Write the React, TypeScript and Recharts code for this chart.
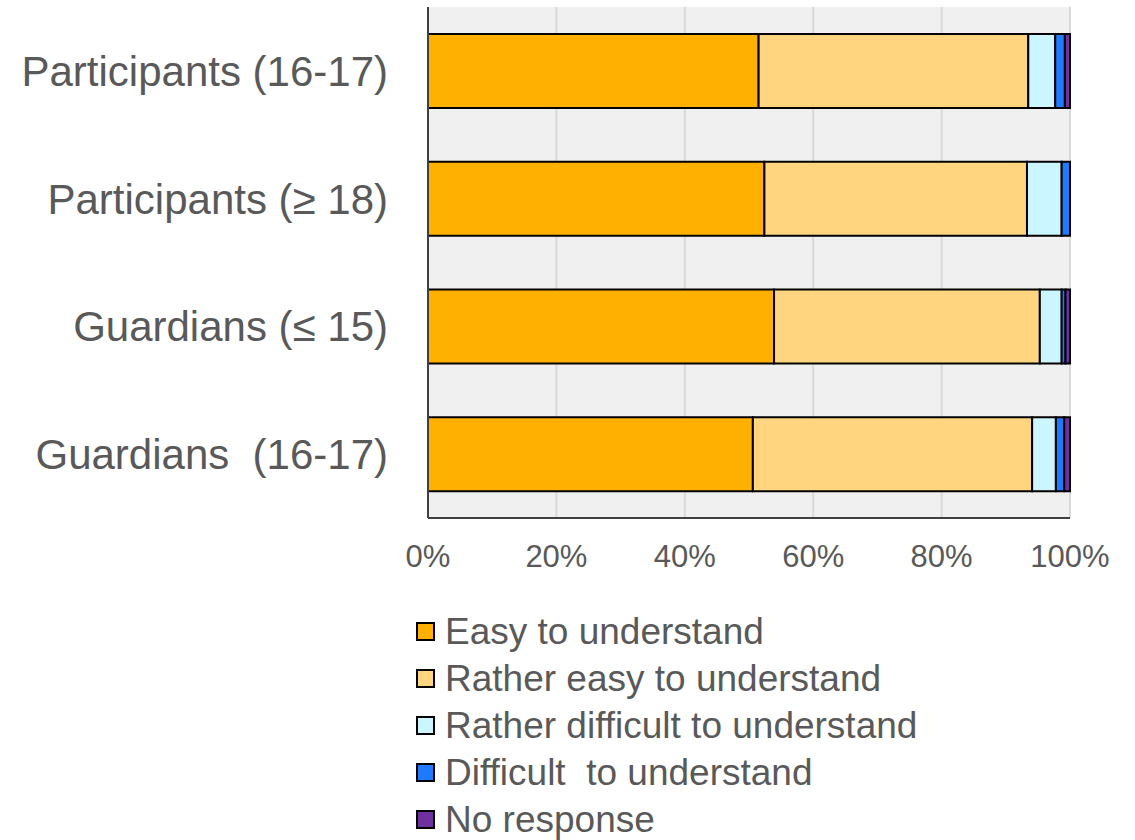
import { BarChart, Bar, XAxis, YAxis, CartesianGrid } from 'recharts'

const GROUPS = ['Participants (16-17)', 'Participants (≥ 18)', 'Guardians (≤ 15)', 'Guardians  (16-17)']
const EASY = [51.5, 52.4, 53.9, 50.6]
const RATHER_EASY = [42.0, 40.9, 41.4, 43.5]
const RATHER_DIFFICULT = [4.2, 5.4, 3.4, 3.7]
const DIFFICULT = [1.5, 1.3, 0.6, 1.3]
const NO_RESPONSE = [0.8, 0, 0.7, 0.9]
const X_TICKS = [0, 20, 40, 60, 80, 100]

const SERIES = [
  { key: 'easy', label: 'Easy to understand', color: '#FFB000', values: EASY },
  { key: 'ratherEasy', label: 'Rather easy to understand', color: '#FFD580', values: RATHER_EASY },
  { key: 'ratherDifficult', label: 'Rather difficult to understand', color: '#CCF6FF', values: RATHER_DIFFICULT },
  { key: 'difficult', label: 'Difficult  to understand', color: '#1F7AFF', values: DIFFICULT },
  { key: 'noResponse', label: 'No response', color: '#7030A0', values: NO_RESPONSE },
]

const data = GROUPS.map((name, i) => {
  const row: Record<string, string | number> = { name }
  SERIES.forEach((s) => {
    row[s.key] = s.values[i]
  })
  return row
})

const FONT = '"Liberation Sans", Arial, sans-serif'
const TEXT = '#595959'

const XTick = ({ x, y, payload }: any) => (
  <text x={x} y={y} dy={49} textAnchor="middle" fontSize={31} fontFamily={FONT} fill={TEXT}>
    {`${payload.value}%`}
  </text>
)

const YTick = ({ y, payload }: any) => (
  <text x={388} y={y} dy="0.36em" textAnchor="end" fontSize={42} fontFamily={FONT} fill={TEXT} style={{ whiteSpace: 'pre' }}>
    {payload.value}
  </text>
)

export default function App() {
  return (
    <div style={{ position: 'absolute', left: 0, top: 0, width: 1135, height: 840, background: '#fff' }}>
      <BarChart
        width={1135}
        height={600}
        data={data}
        layout="vertical"
        margin={{ top: 7, right: 65, bottom: 0, left: 0 }}
        barSize={74}
      >
        <CartesianGrid horizontal={false} vertical fill="#f0f0f0" stroke="#d9d9d9" strokeWidth={2} />
        <XAxis
          type="number"
          domain={[0, 100]}
          ticks={X_TICKS}
          height={82}
          tickSize={0}
          tickMargin={0}
          tick={<XTick />}
          axisLine={{ stroke: '#404040', strokeWidth: 2 }}
          tickLine={false}
          interval={0}
        />
        <YAxis
          type="category"
          dataKey="name"
          width={428}
          tickSize={0}
          tickMargin={0}
          tick={<YTick />}
          axisLine={{ stroke: '#404040', strokeWidth: 2 }}
          tickLine={false}
          interval={0}
        />
        {SERIES.map((s) => (
          <Bar
            key={s.key}
            dataKey={s.key}
            stackId="a"
            fill={s.color}
            stroke="#000"
            strokeWidth={2}
            isAnimationActive={false}
          />
        ))}
      </BarChart>
      <div style={{ position: 'absolute', left: 416, top: 608, fontFamily: FONT, color: TEXT }}>
        {SERIES.map((s) => (
          <div key={s.key} style={{ display: 'flex', alignItems: 'center', height: 47 }}>
            <div
              style={{
                width: 15,
                height: 15,
                background: s.color,
                border: '2px solid #000',
                marginRight: 10,
                flexShrink: 0,
              }}
            />
            <span style={{ fontSize: 37, whiteSpace: 'pre', lineHeight: '47px' }}>{s.label}</span>
          </div>
        ))}
      </div>
    </div>
  )
}
